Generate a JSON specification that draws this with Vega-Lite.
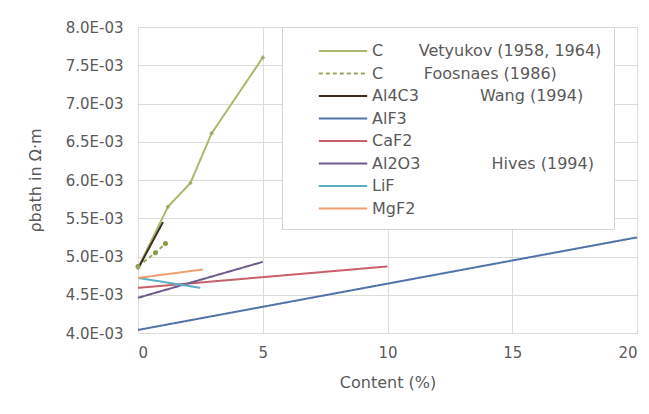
{
  "$schema": "https://vega.github.io/schema/vega-lite/v6.json",
  "autosize": {"type": "none"},
  "width": 499,
  "height": 306,
  "padding": {"left": 138, "top": 27, "right": 12, "bottom": 81},
  "background": "white",
  "config": {
    "font": "DejaVu Sans",
    "view": {"stroke": null},
    "axis": {
      "labelFont": "DejaVu Sans",
      "titleFont": "DejaVu Sans",
      "labelColor": "#5a5a5a",
      "titleColor": "#5a5a5a",
      "labelFontSize": 15,
      "titleFontSize": 16,
      "titleFontWeight": "normal",
      "gridColor": "#dcdcdc",
      "domain": false,
      "ticks": false
    },
    "legend": {
      "labelFont": "DejaVu Sans",
      "labelFontSize": 16,
      "labelColor": "#5a5a5a"
    }
  },
  "data": {
    "values": [
      {"series": "C\u00a0\u00a0\u00a0\u00a0\u00a0\u00a0\u00a0Vetyukov (1958, 1964)", "x": 0, "y": 0.00485},
      {"series": "C\u00a0\u00a0\u00a0\u00a0\u00a0\u00a0\u00a0Vetyukov (1958, 1964)", "x": 1.2, "y": 0.00565},
      {"series": "C\u00a0\u00a0\u00a0\u00a0\u00a0\u00a0\u00a0Vetyukov (1958, 1964)", "x": 2.1, "y": 0.00596},
      {"series": "C\u00a0\u00a0\u00a0\u00a0\u00a0\u00a0\u00a0Vetyukov (1958, 1964)", "x": 2.95, "y": 0.00661},
      {"series": "C\u00a0\u00a0\u00a0\u00a0\u00a0\u00a0\u00a0Vetyukov (1958, 1964)", "x": 5, "y": 0.0076},
      {"series": "C\u00a0\u00a0\u00a0\u00a0\u00a0\u00a0\u00a0\u00a0Foosnaes (1986)", "x": 0, "y": 0.00487},
      {"series": "C\u00a0\u00a0\u00a0\u00a0\u00a0\u00a0\u00a0\u00a0Foosnaes (1986)", "x": 0.7, "y": 0.00505},
      {"series": "C\u00a0\u00a0\u00a0\u00a0\u00a0\u00a0\u00a0\u00a0Foosnaes (1986)", "x": 1.1, "y": 0.00517},
      {"series": "AlF3", "x": 0, "y": 0.00404},
      {"series": "AlF3", "x": 20, "y": 0.00525},
      {"series": "CaF2", "x": 0, "y": 0.00459},
      {"series": "CaF2", "x": 10, "y": 0.00487},
      {"series": "Al2O3\u00a0\u00a0\u00a0\u00a0\u00a0\u00a0\u00a0\u00a0\u00a0\u00a0\u00a0\u00a0\u00a0\u00a0Hives (1994)", "x": 0, "y": 0.00446},
      {"series": "Al2O3\u00a0\u00a0\u00a0\u00a0\u00a0\u00a0\u00a0\u00a0\u00a0\u00a0\u00a0\u00a0\u00a0\u00a0Hives (1994)", "x": 5, "y": 0.00493},
      {"series": "LiF", "x": 0, "y": 0.00472},
      {"series": "LiF", "x": 2.5, "y": 0.00459},
      {"series": "MgF2", "x": 0, "y": 0.00472},
      {"series": "MgF2", "x": 2.6, "y": 0.00483},
      {"series": "Al4C3\u00a0\u00a0\u00a0\u00a0\u00a0\u00a0\u00a0\u00a0\u00a0\u00a0\u00a0\u00a0Wang (1994)", "x": 0, "y": 0.00484},
      {"series": "Al4C3\u00a0\u00a0\u00a0\u00a0\u00a0\u00a0\u00a0\u00a0\u00a0\u00a0\u00a0\u00a0Wang (1994)", "x": 1.0, "y": 0.00545}
    ]
  },
  "encoding": {
    "x": {
      "field": "x", "type": "quantitative",
      "scale": {"domain": [0, 20], "nice": false},
      "axis": {"values": [0, 5, 10, 15, 20], "title": "Content (%)", "labelPadding": 12, "titlePadding": 14}
    },
    "y": {
      "field": "y", "type": "quantitative",
      "scale": {"domain": [0.004, 0.008], "nice": false, "zero": false},
      "axis": {
        "values": [0.004, 0.0045, 0.005, 0.0055, 0.006, 0.0065, 0.007, 0.0075, 0.008],
        "labelExpr": "replace(format(datum.value, '.1e'), 'e-', 'E-0')",
        "title": "ρbath in Ω·m",
        "labelPadding": 15,
        "titlePadding": 22
      }
    }
  },
  "layer": [
    {
      "mark": {"type": "line", "strokeWidth": 2},
      "encoding": {
        "color": {
          "field": "series", "type": "nominal",
          "scale": {
            "domain": [
              "C\u00a0\u00a0\u00a0\u00a0\u00a0\u00a0\u00a0Vetyukov (1958, 1964)",
              "C\u00a0\u00a0\u00a0\u00a0\u00a0\u00a0\u00a0\u00a0Foosnaes (1986)",
              "Al4C3\u00a0\u00a0\u00a0\u00a0\u00a0\u00a0\u00a0\u00a0\u00a0\u00a0\u00a0\u00a0Wang (1994)",
              "AlF3", "CaF2",
              "Al2O3\u00a0\u00a0\u00a0\u00a0\u00a0\u00a0\u00a0\u00a0\u00a0\u00a0\u00a0\u00a0\u00a0\u00a0Hives (1994)",
              "LiF", "MgF2"
            ],
            "range": ["#aab96c", "#9aa85a", "#3a2e22", "#5073a8", "#c8606a", "#6e5c8e", "#5aaec6", "#f0a070"]
          },
          "sort": null,
          "legend": {
            "orient": "none",
            "legendX": 144,
            "legendY": 0,
            "title": null,
            "symbolType": "M-2.2,0H2.2",
            "symbolSize": 484,
            "symbolStrokeWidth": 2,
            "symbolOffset": 37,
            "padding": 12,
            "rowPadding": 2.5,
            "labelOffset": 17,
            "labelLimit": 600,
            "strokeColor": "#d4d4d4",
            "fillColor": "white"
          }
        },
        "strokeDash": {
          "field": "series", "type": "nominal",
          "scale": {
            "domain": [
              "C\u00a0\u00a0\u00a0\u00a0\u00a0\u00a0\u00a0Vetyukov (1958, 1964)",
              "C\u00a0\u00a0\u00a0\u00a0\u00a0\u00a0\u00a0\u00a0Foosnaes (1986)",
              "Al4C3\u00a0\u00a0\u00a0\u00a0\u00a0\u00a0\u00a0\u00a0\u00a0\u00a0\u00a0\u00a0Wang (1994)",
              "AlF3", "CaF2",
              "Al2O3\u00a0\u00a0\u00a0\u00a0\u00a0\u00a0\u00a0\u00a0\u00a0\u00a0\u00a0\u00a0\u00a0\u00a0Hives (1994)",
              "LiF", "MgF2"
            ],
            "range": [[1, 0], [4, 3], [1, 0], [1, 0], [1, 0], [1, 0], [1, 0], [1, 0]]
          },
          "sort": null,
          "legend": {
            "orient": "none",
            "legendX": 144,
            "legendY": 0,
            "title": null
          }
        },
        "detail": {"field": "series"}
      }
    },
    {
      "transform": [{"filter": "indexof(datum.series, 'Foosnaes') >= 0"}],
      "mark": {"type": "point", "filled": true, "size": 25, "color": "#8a9a4a", "opacity": 1}
    },
    {
      "transform": [{"filter": "indexof(datum.series, 'Vetyukov') >= 0"}],
      "mark": {"type": "point", "shape": "cross", "filled": true, "size": 16, "color": "#9aaa60", "opacity": 1}
    }
  ]
}
